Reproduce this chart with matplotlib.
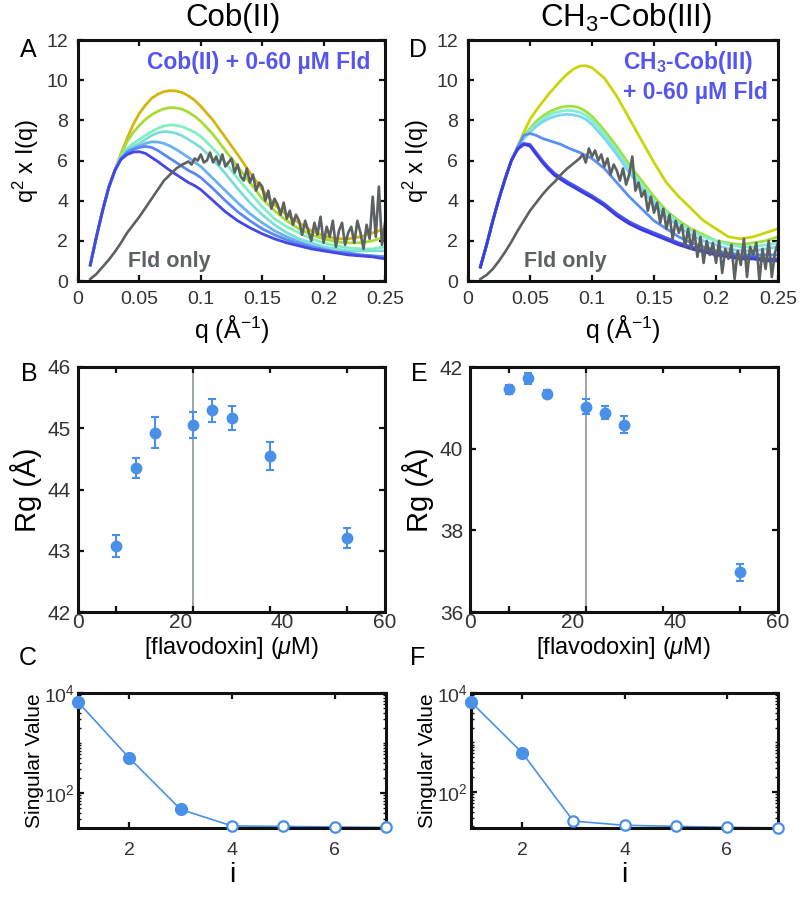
import matplotlib
matplotlib.use('Agg')
import matplotlib.pyplot as plt
import numpy as np
from matplotlib.ticker import FixedLocator, LogLocator, NullFormatter, LogFormatterSciNotation

plt.rcParams['font.family'] = ['Liberation Sans', 'DejaVu Sans']
plt.rcParams['mathtext.fontset'] = 'custom'
plt.rcParams['mathtext.rm'] = 'Liberation Sans'
plt.rcParams['mathtext.it'] = 'Liberation Sans:italic'
plt.rcParams['mathtext.bf'] = 'Liberation Sans:bold'
plt.rcParams['mathtext.sf'] = 'Liberation Sans:bold'

# ---------------- data ----------------
Q = [0.010, 0.015, 0.020, 0.025, 0.030, 0.035, 0.040, 0.045, 0.050, 0.055, 0.060, 0.065,
     0.070, 0.075, 0.080, 0.085, 0.090, 0.095, 0.100,
     0.11, 0.12, 0.13, 0.14, 0.15, 0.16, 0.17, 0.18, 0.19, 0.20, 0.21, 0.22, 0.23, 0.24, 0.25]

# Panel A: Cob(II) + Fld titration (Kratky q^2 I(q))
A_gold  = [0.8, 2.2, 3.5, 4.65, 5.5, 6.35, 7.1, 7.8, 8.35, 8.76, 9.1, 9.3, 9.43, 9.48, 9.46, 9.38, 9.22, 9.0, 8.7,
           8.0, 7.15, 6.3, 5.4, 4.55, 3.8, 3.3, 2.9, 2.5, 2.25, 2.1, 2.1, 2.2, 2.4, 2.6]
A_green = [0.8, 2.2, 3.5, 4.65, 5.5, 6.3, 6.95, 7.4, 7.75, 8.05, 8.28, 8.45, 8.58, 8.63, 8.62, 8.55, 8.4, 8.2, 7.95,
           7.3, 6.5, 5.7, 4.9, 4.1, 3.5, 3.0, 2.6, 2.3, 2.1, 1.95, 1.9, 1.9, 2.0, 2.2]
A_aqua  = [0.8, 2.2, 3.5, 4.65, 5.5, 6.2, 6.6, 6.85, 7.05, 7.25, 7.44, 7.6, 7.72, 7.77, 7.75, 7.68, 7.55, 7.4, 7.2,
           6.6, 5.9, 5.1, 4.4, 3.7, 3.1, 2.7, 2.4, 2.1, 1.9, 1.75, 1.65, 1.6, 1.6, 1.7]
A_cyan  = [0.8, 2.2, 3.5, 4.65, 5.5, 6.15, 6.5, 6.7, 6.85, 7.05, 7.25, 7.38, 7.44, 7.42, 7.35, 7.22, 7.05, 6.85, 6.65,
           6.05, 5.35, 4.6, 3.9, 3.3, 2.8, 2.4, 2.1, 1.9, 1.7, 1.6, 1.5, 1.5, 1.5, 1.5]
A_sky   = [0.8, 2.2, 3.5, 4.65, 5.5, 6.1, 6.45, 6.6, 6.72, 6.85, 6.93, 6.92, 6.85, 6.72, 6.55, 6.35, 6.15, 5.92, 5.7,
           5.1, 4.5, 3.9, 3.35, 2.9, 2.5, 2.2, 1.95, 1.75, 1.6, 1.45, 1.35, 1.3, 1.25, 1.2]
A_corn  = [0.8, 2.2, 3.5, 4.65, 5.5, 6.1, 6.4, 6.55, 6.65, 6.7, 6.65, 6.5, 6.3, 6.1, 5.9, 5.7, 5.5, 5.35, 5.15,
           4.6, 4.0, 3.45, 3.0, 2.6, 2.3, 2.05, 1.85, 1.7, 1.55, 1.45, 1.4, 1.3, 1.25, 1.2]
A_blue  = [0.8, 2.2, 3.5, 4.65, 5.5, 6.05, 6.3, 6.42, 6.44, 6.35, 6.15, 5.95, 5.72, 5.5, 5.3, 5.1, 4.9, 4.75, 4.55,
           4.0, 3.45, 3.0, 2.65, 2.35, 2.1, 1.9, 1.75, 1.6, 1.5, 1.4, 1.3, 1.25, 1.2, 1.1]
A_colors = ['#d6b60c', '#a6dc34', '#80f0c2', '#7edcd8', '#68b2f2', '#5a88f0', '#4646e6']

# Panel D: CH3-Cob(III) + Fld titration
D_yellow = [0.7, 1.8, 3.0, 4.1, 5.1, 6.0, 6.7, 7.4, 8.05, 8.5, 8.9, 9.3, 9.65, 10.0, 10.3, 10.55, 10.7, 10.72, 10.62,
            10.1, 9.2, 8.1, 7.0, 5.9, 4.9, 4.2, 3.6, 3.0, 2.6, 2.2, 2.1, 2.2, 2.4, 2.6]
D_green  = [0.7, 1.8, 3.0, 4.1, 5.1, 6.0, 6.65, 7.2, 7.6, 7.95, 8.2, 8.4, 8.55, 8.65, 8.7, 8.7, 8.62, 8.45, 8.2,
            7.5, 6.7, 5.8, 5.0, 4.2, 3.5, 3.0, 2.6, 2.3, 2.0, 1.9, 1.8, 1.9, 2.0, 2.2]
D_aqua   = [0.7, 1.8, 3.0, 4.1, 5.1, 6.0, 6.62, 7.15, 7.5, 7.8, 8.05, 8.25, 8.38, 8.45, 8.5, 8.48, 8.4, 8.25, 8.0,
            7.3, 6.5, 5.6, 4.8, 4.0, 3.4, 2.9, 2.5, 2.2, 2.0, 1.8, 1.7, 1.7, 1.8, 1.9]
D_cyan   = [0.7, 1.8, 3.0, 4.1, 5.1, 6.0, 6.6, 7.1, 7.4, 7.7, 7.92, 8.08, 8.2, 8.27, 8.3, 8.27, 8.2, 8.05, 7.8,
            7.1, 6.3, 5.4, 4.6, 3.8, 3.2, 2.7, 2.3, 2.0, 1.8, 1.6, 1.5, 1.5, 1.6, 1.7]
D_corn   = [0.7, 1.8, 3.0, 4.1, 5.1, 6.0, 6.65, 7.25, 7.35, 7.25, 7.1, 7.0, 6.9, 6.8, 6.65, 6.52, 6.4, 6.25, 6.1,
            5.6, 4.9, 4.2, 3.6, 3.0, 2.6, 2.2, 1.9, 1.7, 1.5, 1.4, 1.3, 1.3, 1.3, 1.3]
D_blue   = [0.7, 1.8, 3.0, 4.1, 5.1, 6.0, 6.6, 6.85, 6.8, 6.4, 6.0, 5.65, 5.35, 5.15, 4.95, 4.78, 4.6, 4.42, 4.25,
            3.85, 3.35, 2.95, 2.65, 2.4, 2.15, 1.9, 1.7, 1.55, 1.4, 1.3, 1.2, 1.2, 1.1, 1.1]
D_purple = [0.7, 1.8, 3.0, 4.1, 5.1, 6.0, 6.55, 6.8, 6.72, 6.3, 5.9, 5.55, 5.25, 5.05, 4.85, 4.68, 4.5, 4.32, 4.15,
            3.75, 3.25, 2.85, 2.55, 2.3, 2.05, 1.8, 1.6, 1.45, 1.3, 1.2, 1.1, 1.1, 1.0, 1.0]
D_colors = ['#cad60c', '#a2e040', '#80f0d0', '#80d6f0', '#5a90f0', '#4a58f0', '#3c3ce0']

# Fld-only curves (noisy)
GQ = [0.010, 0.015, 0.020, 0.025, 0.030, 0.035, 0.040, 0.045, 0.050, 0.055, 0.060, 0.065,
      0.070, 0.075, 0.080, 0.085,
      0.0900, 0.0925, 0.0950, 0.0975, 0.1000, 0.1025, 0.1050, 0.1075, 0.1100, 0.1125,
      0.1150, 0.1175, 0.1200, 0.1225, 0.1250, 0.1275, 0.1300, 0.1325, 0.1350, 0.1375,
      0.1400, 0.1425, 0.1450, 0.1475, 0.1500, 0.1525, 0.1550, 0.1575, 0.1600, 0.1625,
      0.1650, 0.1675, 0.1700, 0.1725, 0.1750, 0.1775, 0.1800, 0.1825, 0.1850, 0.1875,
      0.1900, 0.1925, 0.1950, 0.1975, 0.2000, 0.2025, 0.2050, 0.2075, 0.2100, 0.2125,
      0.2150, 0.2175, 0.2200, 0.2225, 0.2250, 0.2275, 0.2300, 0.2325, 0.2350, 0.2375,
      0.2400, 0.2425, 0.2450, 0.2475, 0.2500]
A_fld = [0.1, 0.35, 0.7, 1.05, 1.45, 1.9, 2.4, 2.8, 3.2, 3.65, 4.1, 4.55, 5.0, 5.3, 5.6, 5.8,
         5.95, 5.8, 6.1, 6.0, 6.3, 5.9, 6.0, 6.4, 5.9, 6.2,
         5.8, 6.3, 5.7, 5.9, 6.1, 5.4, 5.8, 5.2, 5.0, 5.6,
         4.9, 5.3, 4.5, 4.9, 4.7, 4.0, 4.5, 3.6, 4.1, 3.8,
         3.3, 3.9, 3.1, 3.5, 2.8, 3.3, 3.0, 2.3, 3.0, 2.5,
         2.0, 2.9, 2.3, 3.2, 1.9, 2.7, 2.2, 3.0, 1.7, 2.5,
         2.9, 1.8, 2.4, 2.7, 1.9, 3.0, 2.4, 1.6, 2.8, 2.1,
         4.2, 2.2, 4.7, 1.8, 2.9]
D_fld = [0.1, 0.3, 0.6, 1.0, 1.45, 1.95, 2.5, 3.0, 3.5, 3.9, 4.3, 4.65, 4.95, 5.3, 5.6, 5.85,
         6.1, 6.3, 5.9, 6.6, 6.2, 6.5, 6.0, 6.3, 5.7, 6.1,
         5.3, 5.8, 5.5, 5.0, 5.6, 4.8, 5.3, 6.2, 4.5, 4.9,
         4.2, 4.5, 3.5, 4.2, 3.4, 3.9, 2.9, 3.6, 2.6, 3.3,
         2.1, 3.0, 2.4, 2.8, 1.7, 2.6, 1.6, 2.5, 1.2, 2.2,
         0.9, 2.0, 1.3, 1.9, 0.9, 2.0, 0.4, 1.6, 1.1, 1.8,
         0.1, 1.5, 0.8, 2.1, 0.2, 1.7, 1.3, 1.9, 0.0, 1.6,
         0.6, 2.0, 0.2, 1.4, 1.9]
FLD_COLOR = '#5c6262'

# Panel B / E: Rg vs [flavodoxin]
B_conc = [7.5, 11.25, 15, 22.5, 26.25, 30, 37.5, 52.5]
B_rg   = [43.08, 44.35, 44.93, 45.05, 45.29, 45.17, 44.55, 43.21]
B_err  = [0.18, 0.17, 0.26, 0.21, 0.18, 0.20, 0.23, 0.16]
E_conc = [7.5, 11.25, 15, 22.5, 26.25, 30, 52.5]
E_rg   = [41.45, 41.72, 41.33, 41.03, 40.88, 40.59, 36.97]
E_err  = [0.12, 0.14, 0.10, 0.18, 0.16, 0.20, 0.20]
VLINE_CONC = 22.5

# Panel C / F: singular values
SV_i = [1, 2, 3, 4, 5, 6, 7]
C_sv = [6600, 500, 47, 22, 21.5, 21, 20.5]
C_nsig = 3
F_sv = [6560, 620, 25.7, 21.1, 20.1, 19.2, 18.7]
F_nsig = 2

PT_COLOR = '#4a90e8'
TICK_COLOR = '#333333'
TEXT_BLUE = '#5555f0'

# ---------------- figure ----------------
W, H = 802, 899
fig = plt.figure(figsize=(W / 100, H / 100), dpi=100)


def rect(x0, y0, x1, y1):
    return [x0 / W, 1 - y1 / H, (x1 - x0) / W, (y1 - y0) / H]


def fx(px):
    return px / W


def fy(py):
    return 1 - py / H


def style(ax, xpad=4, ypad=4, fs=13):
    for s in ax.spines.values():
        s.set_linewidth(2.2)
        s.set_color('#111111')
    ax.tick_params(which='both', direction='in', top=True, right=True,
                   labelsize=fs, labelcolor=TICK_COLOR, color='#111111')
    ax.tick_params(which='major', length=4, width=1.6)
    ax.tick_params(axis='x', pad=xpad)
    ax.tick_params(axis='y', pad=ypad)


def kratky_panel(ax, curves, colors, fld):
    for ys, c in zip(curves, colors):
        ax.plot(Q, ys, color=c, lw=2.0, solid_joinstyle='round')
    ax.plot(GQ, fld, color=FLD_COLOR, lw=1.9)
    ax.set_xlim(0, 0.25)
    ax.set_ylim(0, 12)
    ax.set_xticks([0, 0.05, 0.1, 0.15, 0.2, 0.25])
    ax.set_xticklabels(['0', '0.05', '0.1', '0.15', '0.2', '0.25'])
    ax.set_yticks([0, 2, 4, 6, 8, 10, 12])
    style(ax, xpad=7, ypad=7, fs=14)
    ax.set_ylabel('q$^2$ x I(q)', fontsize=17, labelpad=4)
    ax.set_xlabel('q (Å$^{-1}$)', fontsize=18, labelpad=4)


# ---- Panel A ----
axA = fig.add_axes(rect(78, 40, 385, 281))
kratky_panel(axA, [A_gold, A_green, A_aqua, A_cyan, A_sky, A_corn, A_blue], A_colors, A_fld)
fig.text(fx(370), fy(63), 'Cob(II) + 0-60 µM Fld', color=TEXT_BLUE,
         fontsize=16.5, fontweight='bold', ha='right', va='center')
fig.text(fx(169), fy(262), 'Fld only', color=FLD_COLOR, fontsize=15.5,
         fontweight='bold', ha='center', va='center')

# ---- Panel D ----
axD = fig.add_axes(rect(468, 40, 778, 281))
kratky_panel(axD, [D_yellow, D_green, D_aqua, D_cyan, D_corn, D_blue, D_purple], D_colors, D_fld)
fig.text(fx(623), fy(63), 'CH$_\\mathsf{3}$-Cob(III)', color=TEXT_BLUE,
         fontsize=16.5, fontweight='bold', ha='left', va='center')
fig.text(fx(623), fy(92), '+ 0-60 µM Fld', color=TEXT_BLUE,
         fontsize=16.5, fontweight='bold', ha='left', va='center')
fig.text(fx(565), fy(262), 'Fld only', color=FLD_COLOR, fontsize=15.5,
         fontweight='bold', ha='center', va='center')


# ---- Panels B / E ----
def rg_panel(ax, conc, rg, err, ylim, yticks):
    ax.axvline(VLINE_CONC, color='#8a9696', lw=1.2, zorder=1)
    ax.errorbar(conc, rg, yerr=err, fmt='o', color=PT_COLOR, ms=7.5,
                elinewidth=1.5, capsize=3, capthick=1.5, zorder=3)
    ax.set_xlim(0, 60)
    ax.set_ylim(*ylim)
    ax.set_xticks([0, 20, 40, 60])
    ax.set_xticks([7.5, 22.5, 37.5, 52.5], minor=True)
    ax.set_yticks(yticks)
    style(ax, xpad=1, ypad=5, fs=15)
    ax.tick_params(axis='x', which='major', length=0)
    ax.tick_params(axis='x', which='minor', length=4, width=1.6)
    ax.set_ylabel('Rg (Å)', fontsize=21, labelpad=4)
    ax.set_xlabel('[flavodoxin] ($\\mu$M)', fontsize=17, labelpad=2)


axB = fig.add_axes(rect(78, 367, 385, 612))
rg_panel(axB, B_conc, B_rg, B_err, (42, 46), [42, 43, 44, 45, 46])
axE = fig.add_axes(rect(470, 367, 778, 612))
rg_panel(axE, E_conc, E_rg, E_err, (36, 42), [36, 38, 40, 42])


# ---- Panels C / F ----
def svd_panel(ax, sv, nsig, ybot):
    ax.plot(SV_i, sv, color=PT_COLOR, lw=1.2, zorder=2, clip_on=False)
    ax.plot(SV_i[:nsig], sv[:nsig], 'o', color=PT_COLOR, ms=8.5, zorder=3, clip_on=False)
    ax.plot(SV_i[nsig:], sv[nsig:], 'o', mfc='white', mec=PT_COLOR, mew=1.6,
            ms=7.5, zorder=3, clip_on=False)
    ax.set_yscale('log')
    ax.set_xlim(1, 7)
    ax.set_ylim(ybot, 1e4)
    ax.set_xticks([2, 4, 6])
    ax.yaxis.set_major_locator(FixedLocator([1e2, 1e4]))
    ax.yaxis.set_major_formatter(LogFormatterSciNotation())
    ax.yaxis.set_minor_locator(LogLocator(base=10, subs=np.arange(1, 10), numticks=20))
    ax.yaxis.set_minor_formatter(NullFormatter())
    style(ax, xpad=10, ypad=2, fs=14)
    ax.tick_params(which='minor', length=2.5, width=1.0)
    ax.set_ylabel('Singular Value', fontsize=15, labelpad=0)
    ax.set_xlabel('i', fontsize=20, labelpad=2)


axC = fig.add_axes(rect(78, 693, 386, 828))
svd_panel(axC, C_sv, C_nsig, 20)
axF = fig.add_axes(rect(471, 693, 778, 828))
svd_panel(axF, F_sv, F_nsig, 18.6)

# ---- titles and panel letters ----
fig.text(fx(233), fy(18), 'Cob(II)', fontsize=22.5, ha='center', va='center')
fig.text(fx(626), fy(18), 'CH$_3$-Cob(III)', fontsize=22.5, ha='center', va='center')
for letter, px, py in [('A', 28, 50), ('D', 418, 50), ('B', 29, 374), ('E', 419, 374),
                       ('C', 28, 658), ('F', 418, 658)]:
    fig.text(fx(px), fy(py), letter, fontsize=18, ha='center', va='center')

fig.savefig('out.png', dpi=100)
